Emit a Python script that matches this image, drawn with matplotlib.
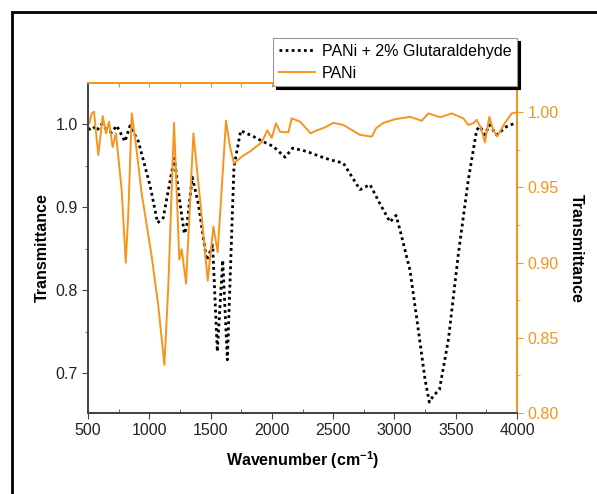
import matplotlib.pyplot as plt
from matplotlib.patches import Rectangle
from matplotlib.ticker import MultipleLocator

plt.rcParams['font.family'] = ['Liberation Sans', 'DejaVu Sans']
plt.rcParams['mathtext.fontset'] = 'custom'
plt.rcParams['mathtext.rm'] = 'Liberation Sans'
plt.rcParams['mathtext.bf'] = 'Liberation Sans:bold'

orange = '#F7941D'

# PANi + 2% Glutaraldehyde (left axis)
glu_x = [502, 543, 571, 612, 652, 693, 734, 802, 843, 911, 1006, 1068, 1114, 1204,
         1251, 1286, 1305, 1351, 1400, 1468, 1517, 1555, 1599, 1637, 1691, 1746,
         1849, 1925, 2012, 2107, 2170, 2284, 2393, 2474, 2583, 2719, 2801, 2882,
         2964, 3013, 3046, 3127, 3195, 3250, 3285, 3318, 3367, 3440, 3522, 3603,
         3671, 3698, 3739, 3774, 3834, 3916, 3984, 4000]
glu_y = [0.993, 0.997, 0.992, 1.000, 0.993, 0.990, 0.998, 0.979, 0.998, 0.979,
         0.926, 0.881, 0.887, 0.959, 0.904, 0.868, 0.876, 0.936, 0.904, 0.836,
         0.854, 0.726, 0.836, 0.716, 0.949, 0.992, 0.985, 0.979, 0.973, 0.960,
         0.971, 0.967, 0.961, 0.957, 0.953, 0.921, 0.927, 0.904, 0.882, 0.890,
         0.872, 0.824, 0.752, 0.692, 0.665, 0.673, 0.680, 0.740, 0.844, 0.933,
         0.993, 0.997, 0.987, 0.999, 0.987, 0.997, 1.001, 1.000]

# PANi (right axis)
pani_x = [500, 511, 530, 549, 584, 620, 647, 671, 701, 728, 775, 808, 829, 857, 892,
          938, 1020, 1074, 1123, 1155, 1202, 1245, 1264, 1300, 1360, 1420, 1477,
          1523, 1558, 1626, 1659, 1691, 1754, 1822, 1917, 1963, 1999, 2034, 2067,
          2135, 2162, 2230, 2317, 2366, 2434, 2502, 2583, 2719, 2815, 2850, 2910,
          3005, 3127, 3223, 3277, 3372, 3467, 3562, 3603, 3644, 3671, 3704, 3739,
          3774, 3807, 3839, 3902, 3957, 4000]
pani_y = [0.995, 0.9927, 0.9993, 1.0004, 0.9716, 0.9975, 0.986, 0.9938, 0.977, 0.986,
          0.948, 0.900, 0.933, 0.9993, 0.978, 0.946, 0.904, 0.871, 0.832, 0.884,
          0.993, 0.902, 0.909, 0.886, 0.986, 0.937, 0.888, 0.924, 0.907, 0.9944,
          0.977, 0.966, 0.9705, 0.974, 0.980, 0.988, 0.983, 0.9927, 0.987, 0.9867,
          0.996, 0.9938, 0.986, 0.988, 0.990, 0.993, 0.9916, 0.985, 0.9838, 0.9894,
          0.993, 0.9954, 0.997, 0.9944, 0.9993, 0.9967, 0.9993, 0.996, 0.9916,
          0.9927, 0.995, 0.990, 0.980, 0.997, 0.988, 0.984, 0.993, 0.9993, 1.000]

fig = plt.figure(figsize=(5.97, 4.94), dpi=100)
ax = fig.add_axes([88 / 597, 1 - 413 / 494, 429 / 597, 330 / 494])
ax2 = ax.twinx()

l1, = ax.plot(glu_x, glu_y, color='black', lw=2, linestyle=(0, (1, 1.2)),
              label='PANi + 2% Glutaraldehyde')
l2, = ax2.plot(pani_x, pani_y, color=orange, lw=1.4, label='PANi')

ax.set_xlim(500, 4000)
ax.set_ylim(0.652, 1.0494)
ax2.set_ylim(0.80, 1.0195)

ax.xaxis.set_major_locator(MultipleLocator(500))
ax.xaxis.set_minor_locator(MultipleLocator(250))
ax.yaxis.set_major_locator(MultipleLocator(0.1))
ax.yaxis.set_minor_locator(MultipleLocator(0.05))
ax2.yaxis.set_major_locator(MultipleLocator(0.05))
ax2.yaxis.set_minor_locator(MultipleLocator(0.025))

dark = '#444444'
for a in (ax, ax2):
    a.spines['top'].set_color(orange)
    a.spines['right'].set_color(orange)
    a.spines['left'].set_color(dark)
    a.spines['bottom'].set_color(dark)
    for s in a.spines.values():
        s.set_linewidth(1.3)

ax.tick_params(axis='y', which='major', direction='out', length=4, color=dark,
               labelsize=11.5, labelcolor='#222222')
ax.tick_params(axis='y', which='minor', direction='out', length=2.5, color=dark)
ax.tick_params(axis='x', which='major', direction='out', length=4, color=dark,
               labelsize=11.5, labelcolor='#222222')
ax.tick_params(axis='x', which='minor', direction='in', length=3, color=dark)
ax2.tick_params(axis='y', which='major', direction='out', length=4, color=orange,
                labelsize=11.5, labelcolor=orange)
ax2.tick_params(axis='y', which='minor', direction='out', length=2.5, color=orange)

top = ax.secondary_xaxis('top')
top.set_xticks(range(500, 4001, 250))
top.tick_params(direction='in', length=3, color=orange, labeltop=False)
top.spines['top'].set_color(orange)
top.spines['top'].set_linewidth(1.3)

ax.set_xlabel(r'Wavenumber (cm$^{\mathbf{-1}}$)', fontsize=11.5, fontweight='bold',
              labelpad=8)
ax.set_ylabel('Transmittance', fontsize=11.5, fontweight='bold', labelpad=4)
ax2.set_ylabel('Transmittance', fontsize=11.5, fontweight='bold', rotation=270,
               labelpad=18)

leg = fig.legend(handles=[l1, l2], loc='upper right',
                 bbox_to_anchor=(517 / 597, 1 - 38 / 494), borderaxespad=0,
                 fancybox=False, fontsize=11.5, handlelength=2.3, handletextpad=0.4,
                 borderpad=0.35, labelspacing=0.45,
                 shadow={'color': 'black', 'alpha': 1})
leg.get_frame().set_edgecolor('#999999')
leg.get_frame().set_linewidth(0.8)

fig.patches.append(Rectangle((12 / 597, -0.1), 1.2, (494 - 12) / 494 + 0.1,
                             transform=fig.transFigure, fill=False,
                             edgecolor='black', lw=2))

fig.savefig('out.png', dpi=100)
